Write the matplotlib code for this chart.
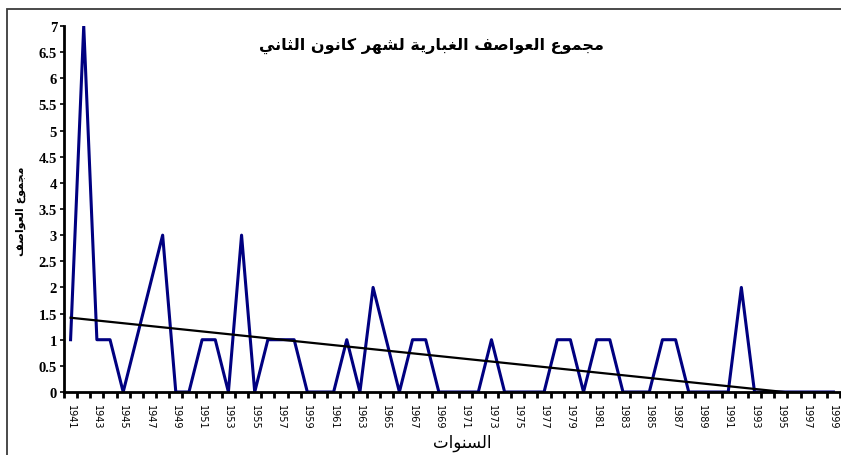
import numpy as np
import matplotlib
matplotlib.use('Agg')
import matplotlib.pyplot as plt
from matplotlib.patches import Rectangle
from matplotlib.ticker import FixedLocator

# =============================================================================
# DATA
# =============================================================================
years = list(range(1941, 2000))
storms = [1, 7, 1, 1, 0, 1, 2, 3, 0, 0,      # 1941-1950
          1, 1, 0, 3, 0, 1, 1, 1, 0, 0,      # 1951-1960
          0, 1, 0, 2, 1, 0, 1, 1, 0, 0,      # 1961-1970
          0, 0, 1, 0, 0, 0, 0, 1, 1, 0,      # 1971-1980
          1, 1, 0, 0, 0, 1, 1, 0, 0, 0,      # 1981-1990
          0, 2, 0, 0, 0, 0, 0, 0, 0]         # 1991-1999
label_years = list(range(1941, 2000, 2))
y_ticks = [0, 0.5, 1, 1.5, 2, 2.5, 3, 3.5, 4, 4.5, 5, 5.5, 6, 6.5, 7]

TITLE  = "مجموع العواصف الغبارية لشهر كانون الثاني"
YLABEL = "مجموع العواصف"
XLABEL = "السنوات"


# =============================================================================
# very small arabic shaper: matplotlib has no shaping / bidi, so pick the
# presentation form of every letter and reverse the string
# =============================================================================
# letter -> (first presentation code point, number of forms)
FORMS = {
    'ا': (0xFE8D, 2), 'ب': (0xFE8F, 4), 'ة': (0xFE93, 2), 'ت': (0xFE95, 4),
    'ث': (0xFE99, 4), 'ج': (0xFE9D, 4), 'ح': (0xFEA1, 4), 'خ': (0xFEA5, 4),
    'د': (0xFEA9, 2), 'ذ': (0xFEAB, 2), 'ر': (0xFEAD, 2), 'ز': (0xFEAF, 2),
    'س': (0xFEB1, 4), 'ش': (0xFEB5, 4), 'ص': (0xFEB9, 4), 'ض': (0xFEBD, 4),
    'ط': (0xFEC1, 4), 'ظ': (0xFEC5, 4), 'ع': (0xFEC9, 4), 'غ': (0xFECD, 4),
    'ف': (0xFED1, 4), 'ق': (0xFED5, 4), 'ك': (0xFED9, 4), 'ل': (0xFEDD, 4),
    'م': (0xFEE1, 4), 'ن': (0xFEE5, 4), 'ه': (0xFEE9, 4), 'و': (0xFEED, 2),
    'ى': (0xFEEF, 2), 'ي': (0xFEF1, 4),
}


def shape(text):
    out = []
    for i, ch in enumerate(text):
        if ch not in FORMS:
            out.append(ch)
            continue
        start, n = FORMS[ch]
        prev = text[i - 1] if i > 0 else ''
        nxt = text[i + 1] if i + 1 < len(text) else ''
        join_prev = prev in FORMS and FORMS[prev][1] == 4
        join_next = n == 4 and nxt in FORMS
        if join_prev and join_next:
            off = 3
        elif join_prev:
            off = 1
        elif join_next:
            off = 2
        else:
            off = 0
        out.append(chr(start + off))
    return ''.join(out)[::-1]


# =============================================================================
# PLOT
# =============================================================================
fig = plt.figure(figsize=(8.41, 4.56), dpi=100)
ax = fig.add_axes([64 / 841, 63 / 456, 776 / 841, 366 / 456])

# outer chart frame (only top and left edges are inside the picture)
fig.patches.append(Rectangle((7 / 841, -0.2), 1.5, 0.2 + 1 - 10 / 456,
                             transform=fig.transFigure, fill=False,
                             edgecolor='#3a3a3a', linewidth=1.3))

ax.plot(years, storms, color='#000080', linewidth=2.2, zorder=3)

# linear trend line, clipped by the axis at zero
coef = np.polyfit(years, storms, 1)
yr = np.array([years[0], years[-1]])
ax.plot(yr, np.polyval(coef, yr), color='black', linewidth=1.6, zorder=4)

ax.set_xlim(years[0] - 0.5, years[-1] + 0.5)
ax.set_ylim(0, 7)

for side in ['top', 'right']:
    ax.spines[side].set_visible(False)
for side in ['left', 'bottom']:
    ax.spines[side].set_linewidth(2)
    ax.spines[side].set_zorder(5)

ax.yaxis.set_major_locator(FixedLocator(y_ticks))
ax.set_yticklabels([f"{v:g}" for v in y_ticks])
ax.tick_params(axis='y', length=3, width=1.2, pad=2, labelsize=10.5)
for lbl in ax.get_yticklabels():
    lbl.set_family('Liberation Serif')
    lbl.set_fontweight('bold')

ax.xaxis.set_major_locator(FixedLocator(label_years))
ax.set_xticklabels([str(y) for y in label_years], rotation=-90,
                   fontsize=7, family='DejaVu Sans')
ax.xaxis.set_minor_locator(FixedLocator(np.arange(years[0] - 0.5, years[-1] + 1, 1)))
ax.tick_params(axis='x', which='major', length=0, pad=9)
ax.tick_params(axis='x', which='minor', length=4, width=2)

fig.text(431 / 841, 1 - 46 / 456, shape(TITLE), ha='center', va='center',
         fontsize=11.5, fontweight='bold', family='DejaVu Sans')
fig.text(21 / 841, 1 - 211 / 456, shape(YLABEL), ha='center', va='center',
         rotation=90, fontsize=8, fontweight='bold', family='DejaVu Sans')
fig.text(462 / 841, 1 - 443 / 456, shape(XLABEL), ha='center', va='center',
         fontsize=12, family='DejaVu Sans')

fig.savefig('out.png', dpi=100)
